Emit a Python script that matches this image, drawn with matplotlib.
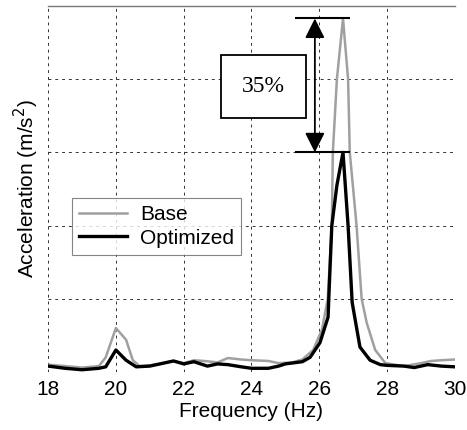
import matplotlib.pyplot as plt

# --- data ---
freq_base = [18.0, 18.5, 19.0, 19.5, 19.7, 20.0, 20.3, 20.5, 20.7, 21.0, 21.3, 21.7,
             22.0, 22.3, 22.6, 23.0, 23.3, 23.7, 24.0, 24.5, 24.8, 25.2, 25.5, 25.82,
             26.08, 26.25, 26.37, 26.4, 26.52, 26.7, 26.85, 26.9, 27.1, 27.25, 27.4,
             27.65, 27.95, 28.5, 29.0, 29.3, 29.6, 30.0]
accel_base = [0.10, 0.08, 0.06, 0.08, 0.20, 0.60, 0.44, 0.16, 0.08, 0.09, 0.11, 0.15,
              0.12, 0.16, 0.15, 0.13, 0.19, 0.17, 0.16, 0.15, 0.12, 0.13, 0.17, 0.30,
              0.58, 1.00, 2.00, 3.00, 4.00, 4.83, 4.00, 3.00, 2.00, 1.00, 0.67,
              0.30, 0.12, 0.08, 0.12, 0.15, 0.16, 0.17]

freq_opt = [18.0, 18.5, 19.0, 19.5, 19.7, 20.0, 20.3, 20.6, 21.0, 21.3, 21.7, 22.0,
            22.3, 22.7, 23.0, 23.3, 23.7, 24.0, 24.5, 24.8, 25.0, 25.5, 25.73, 26.02,
            26.26, 26.28, 26.37, 26.52, 26.7, 26.85, 26.97, 27.2, 27.5, 27.8, 28.0,
            28.5, 28.8, 29.2, 29.6, 30.0]
accel_opt = [0.08, 0.05, 0.03, 0.05, 0.07, 0.30, 0.16, 0.07, 0.08, 0.11, 0.15, 0.11,
             0.14, 0.08, 0.11, 0.10, 0.07, 0.05, 0.05, 0.08, 0.11, 0.14, 0.20, 0.40,
             0.75, 1.00, 2.00, 2.55, 3.00, 2.00, 0.95, 0.34, 0.16, 0.10, 0.09,
             0.08, 0.06, 0.10, 0.08, 0.07]

x_ticks = [18, 20, 22, 24, 26, 28, 30]
y_grid = [0, 1, 2, 3, 4, 5]
reduction_label = '35%'

plt.rcParams['font.family'] = ['Liberation Sans', 'DejaVu Sans']

fig = plt.figure(figsize=(4.67, 4.30), dpi=100)
ax = fig.add_axes([0.103, 0.135, 0.871, 0.851])

ax.plot(freq_base, accel_base, color='#a0a0a0', lw=1.8, label='Base')
ax.plot(freq_opt, accel_opt, color='black', lw=2.4, label='Optimized')

ax.set_xlim(18, 30)
ax.set_ylim(0, 5)
ax.set_xticks(x_ticks)
ax.set_yticks(y_grid)
ax.set_yticklabels([])
ax.tick_params(length=0, labelsize=15, pad=6)
ax.grid(True, color='#333333', ls=(0, (3, 4)), lw=0.7)
for side in ['left', 'right', 'bottom']:
    ax.spines[side].set_visible(False)
ax.spines['top'].set_color('#777777')
ax.spines['top'].set_linewidth(1.0)

ax.set_xlabel('Frequency (Hz)', fontsize=15, labelpad=2)
ax.set_ylabel('Acceleration (m/s$^2$)', fontsize=15, labelpad=-1)

# --- peak reduction annotation ---
peak_base = max(accel_base)
peak_opt = max(accel_opt)
ax.hlines([peak_base, peak_opt], 25.28, 26.9, color='black', lw=1.5)
ax.annotate('', xy=(25.87, peak_opt), xytext=(25.87, peak_base),
            arrowprops=dict(arrowstyle='<|-|>', color='black', lw=1.3,
                            mutation_scale=30, shrinkA=0, shrinkB=0))
ax.text(24.35, 3.9, reduction_label, fontsize=17, family='Liberation Serif',
        ha='center', va='center',
        bbox=dict(boxstyle='square,pad=0.9', fc='white', ec='black', lw=1.3))

leg = ax.legend(loc='upper left', bbox_to_anchor=(0.059, 0.475), borderaxespad=0,
                fontsize=15, frameon=True, fancybox=False, handlelength=2.3,
                borderpad=0.35, labelspacing=0.2, handletextpad=0.6)
leg.get_frame().set_edgecolor('#666666')
leg.get_frame().set_linewidth(0.8)

fig.savefig('out.png', dpi=100)
